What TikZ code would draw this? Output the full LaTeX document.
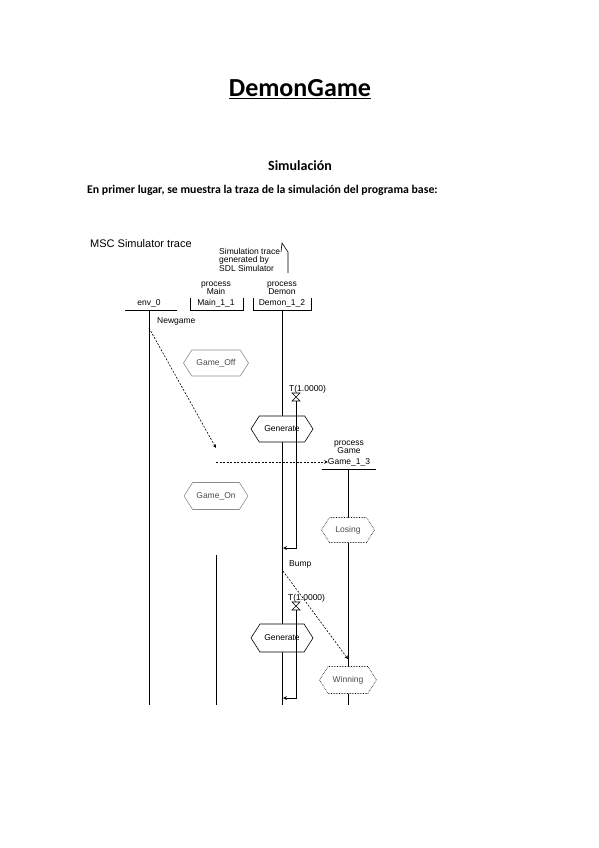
\documentclass[tikz,border=0pt]{standalone}
\usepackage{fontspec}
\setmainfont{Carlito}
\newfontfamily\mscfont{Liberation Sans}
\usetikzlibrary{shapes.symbols}

\tikzset{
  msc/.style={font=\mscfont\fontsize{8.5}{8.5}\selectfont, inner sep=0pt},
  life/.style={line width=0.8pt},
  cond/.style={msc, signal, signal to=east and west, signal pointer angle=115,
    draw, fill=white, line width=0.6pt, minimum width=62pt, minimum height=26pt, inner sep=1pt},
  condgray/.style={cond, draw=black!45, text=black!70},
  conddot/.style={cond, densely dotted, text=black!70},
  msg/.style={->, >=stealth, line width=0.6pt, dash pattern=on 2pt off 1.5pt},
  tmout/.style={->, >=stealth, line width=0.8pt},
}

\begin{document}
\begin{tikzpicture}[x=1pt,y=-1pt]
  \useasboundingbox (0,0) rectangle (599,848);
  \fill[white] (0,0) rectangle (599,848);

  % --- Kopf ---
  \node[font=\fontsize{26}{30}\selectfont\bfseries, anchor=base, inner sep=0pt] (titel) at (300,97) {\underline{DemonGame}};
  \node[font=\fontsize{14}{16}\selectfont\bfseries, anchor=base, inner sep=0pt] (simul) at (300,170) {Simulación};
  \node[font=\fontsize{11.8}{13}\selectfont\bfseries, anchor=base west, inner sep=0pt] (intro) at (87,193)
      {En primer lugar, se muestra la traza de la simulación del programa base:};

  % --- MSC-Rahmen ---
  \node[msc, font=\mscfont\fontsize{11}{11}\selectfont, anchor=base west] (msctitel) at (90,247) {MSC Simulator trace};
  \node[msc, anchor=north west, align=left] (notiz) at (219,248) {Simulation trace\\generated by\\SDL Simulator};
  \draw[line width=0.6pt] (281,252) -- (282,243) -- (288,252) -- (288,273);

  % --- Instanzkoepfe ---
  \node[msc, anchor=base] (envname) at (149,305) {env\_0};
  \node[msc, anchor=base] (prmain) at (216,286) {process};
  \node[msc, anchor=base] (typmain) at (216,294) {Main};
  \node[msc, anchor=base] (main) at (216,305) {Main\_1\_1};
  \node[msc, anchor=base] (prdemon) at (282,286) {process};
  \node[msc, anchor=base] (typdemon) at (282,294) {Demon};
  \node[msc, anchor=base] (demon) at (282,305) {Demon\_1\_2};
  \node[msc, anchor=base] (prgame) at (349,445) {process};
  \node[msc, anchor=base] (typgame) at (349,453) {Game};
  \node[msc, anchor=base] (game) at (349,464) {Game\_1\_3};

  \draw[life] (125,310) -- (177,310);
  \draw[life] (190,298) -- (190,310) -- (243,310) -- (243,298);
  \draw[life] (253,298) -- (253,310) -- (311,310) -- (311,298);
  \draw[life] (322,469) -- (376,469);

  % --- Lebenslinien ---
  \coordinate (envtop) at (149,310);   \coordinate (envbot) at (149,705);
  \coordinate (maintop) at (216,555);  \coordinate (mainbot) at (216,705);
  \coordinate (demtop) at (282,310);   \coordinate (dembot) at (282,705);
  \coordinate (gametop) at (348,469);  \coordinate (gamebot) at (348,705);
  \draw[life] (envtop) -- (envbot);
  \draw[life] (maintop) -- (mainbot);
  \draw[life] (demtop) -- (dembot);
  \draw[life] (gametop) -- (gamebot);

  % --- Bedingungen ---
  \node[condgray, minimum width=65pt] (gameoff) at (216,363) {Game\_Off};
  \node[cond] (gen1) at (282,429) {Generate};
  \node[condgray, minimum width=64pt, minimum height=27pt] (gameon) at (216,496) {Game\_On};
  \node[conddot, minimum width=53pt, minimum height=25pt] (losing) at (348,530) {Losing};
  \node[cond, minimum height=28pt] (gen2) at (282,638) {Generate};
  \node[conddot, minimum width=57pt, minimum height=27pt] (winning) at (348,680) {Winning};

  % --- Nachrichten ---
  \coordinate (ngout) at (149,328);  \coordinate (ngin) at (216,448);
  \draw[msg] (ngout) -- (ngin);
  \node[msc, anchor=base west] (newgame) at (157,323) {Newgame};

  \coordinate (crout) at (216,462);  \coordinate (crin) at (game.west |- 0,462);
  \draw[msg] (crout) -- (crin);

  \coordinate (bpout) at (283,571);  \coordinate (bpin) at (348,659);
  \draw[msg] (bpout) -- (bpin);
  \node[msc, anchor=base west] (bump) at (289,566) {Bump};

  % --- Timer T ---
  \node[msc, anchor=base west] (timer1) at (289,391) {T(1.0000)};
  \draw[line width=0.6pt] (292,393) -- (300,393) -- (292,401) -- (300,401) -- cycle;
  \coordinate (t1a) at (296,401);  \coordinate (t1b) at (296,548);  \coordinate (t1c) at (283,548);
  \draw[tmout] (t1a) -- (t1b) -- (t1c);

  \node[msc, anchor=base west] (timer2) at (288,600) {T(1.0000)};
  \draw[line width=0.6pt] (292,602) -- (300,602) -- (292,610) -- (300,610) -- cycle;
  \coordinate (t2a) at (296,610);  \coordinate (t2b) at (296,698);  \coordinate (t2c) at (283,698);
  \draw[tmout] (t2a) -- (t2b) -- (t2c);

\end{tikzpicture}
\end{document}
